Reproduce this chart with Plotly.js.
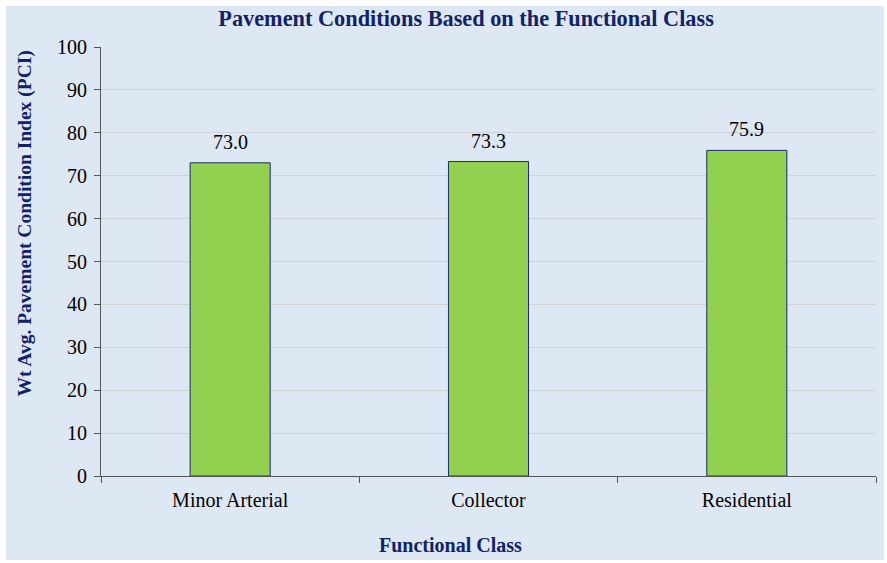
<!DOCTYPE html>
<html>
<head>
<meta charset="utf-8">
<script src="https://cdn.plot.ly/plotly-3.0.1.min.js"></script>
<style>
html,body{margin:0;padding:0;background:#ffffff;}
#chart{position:absolute;left:6px;top:6px;width:878px;height:554px;}
</style>
</head>
<body>
<div id="chart"></div>
<script>
const categories = ["Minor Arterial", "Collector", "Residential"];
const pciValues = [73.0, 73.3, 75.9];
const yTicks = [0, 10, 20, 30, 40, 50, 60, 70, 80, 90, 100];

const serif = '"Liberation Serif", "Times New Roman", serif';
const navy = '#112266';

const trace = {
  type: 'bar',
  x: categories,
  y: pciValues,
  width: 0.31,
  marker: {color: '#92d050', line: {color: '#1a2a6c', width: 1}},
  hoverinfo: 'skip'
};

const annotations = categories.map((c, i) => ({
  x: c, y: pciValues[i], xref: 'x', yref: 'y',
  text: pciValues[i].toFixed(1),
  showarrow: false, yanchor: 'bottom', yshift: 8,
  font: {family: serif, size: 20, color: '#000000'}
}));

annotations.push({
  text: '<b>Wt Avg. Pavement Condition Index (PCI)</b>',
  xref: 'paper', yref: 'paper', x: 0, y: 0.5,
  xanchor: 'center', yanchor: 'middle', textangle: -90,
  xshift: -77, yshift: 38, showarrow: false,
  font: {family: serif, size: 19.5, color: navy}
});
annotations.push({
  text: '<b>Functional Class</b>',
  xref: 'paper', yref: 'paper', x: 0.5, y: 0,
  xanchor: 'center', yanchor: 'middle',
  xshift: -38, yshift: -69, showarrow: false,
  font: {family: serif, size: 20, color: navy}
});

const layout = {
  width: 878, height: 554,
  paper_bgcolor: '#dee8f4',
  plot_bgcolor: '#dee8f4',
  margin: {l: 95, r: 8, t: 41, b: 84},
  showlegend: false,
  title: {
    text: 'Pavement Conditions Based on the Functional Class',
    font: {family: serif, size: 22.3, color: navy, weight: 'bold'},
    x: 0.524, xanchor: 'center', y: 0.978, yanchor: 'middle'
  },
  xaxis: {
    type: 'category',
    tickson: 'boundaries',
    ticks: 'outside', ticklen: 6, tickcolor: '#555555', tickwidth: 1,
    showline: true, linecolor: '#555555', linewidth: 1,
    showgrid: false,
    ticklabelstandoff: 6,
    tickfont: {family: serif, size: 20, color: '#000000'},
    fixedrange: true
  },
  yaxis: {
    range: [0, 100],
    tickvals: yTicks,
    ticks: 'outside', ticklen: 6, tickcolor: '#555555', tickwidth: 1,
    showline: true, linecolor: '#555555', linewidth: 1,
    showgrid: true, gridcolor: '#cfd3d8', gridwidth: 1,
    zeroline: false,
    ticklabelstandoff: 3,
    tickfont: {family: serif, size: 20, color: '#000000'},
    fixedrange: true
  },
  annotations: annotations,
  bargap: 0.69
};

Plotly.newPlot('chart', [trace], layout, {displayModeBar: false, staticPlot: true});
</script>
</body>
</html>
